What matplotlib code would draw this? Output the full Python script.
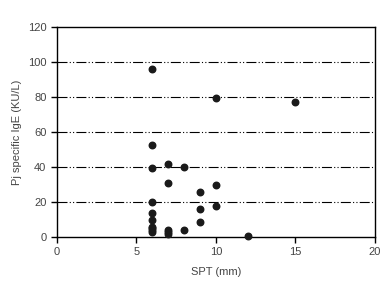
import numpy as np
import matplotlib.pyplot as plt

plt.rcParams['font.family'] = ['Liberation Sans', 'DejaVu Sans']

# SPT wheal size (mm) and Pj specific IgE (KU/L)
spt = [6, 6, 6, 6, 6, 6, 6, 6, 6, 6,
       7, 7, 7, 7, 7,
       8, 8,
       9, 9, 9,
       10, 10, 10,
       12, 15]
ige = [96, 52.5, 39.5, 20, 13.5, 10, 6, 5, 4, 3,
       42, 31, 4, 3, 2,
       40, 4,
       26, 16, 8.5,
       79.5, 30, 18,
       0.5, 77]

xticks = [0, 5, 10, 15, 20]
yticks = [0, 20, 40, 60, 80, 100, 120]
gridlines = [20, 40, 60, 80, 100]

fig = plt.figure(figsize=(3.87, 2.83), dpi=100)
ax = fig.add_axes([0.147, 0.1625, 0.822, 0.742])

for g in gridlines:
    ax.axhline(g, color='black', linewidth=0.8, linestyle=(0, (9, 2, 1, 2, 1, 2)), zorder=1)

ax.scatter(spt, ige, s=22, color='#1a1a1a', zorder=3, clip_on=False)

ax.set_xlim(0, 20)
ax.set_ylim(0, 120)
ax.set_xticks(xticks)
ax.set_yticks(yticks)
ax.tick_params(direction='out', length=4, width=1, labelsize=8, labelcolor='#444444', color='black')
for s in ax.spines.values():
    s.set_linewidth(1)

ax.set_xlabel('SPT (mm)', fontsize=8, color='#444444', labelpad=7)
ax.set_ylabel('Pj specific IgE (KU/L)', fontsize=8, color='#444444')

fig.savefig('out.png', dpi=100)
